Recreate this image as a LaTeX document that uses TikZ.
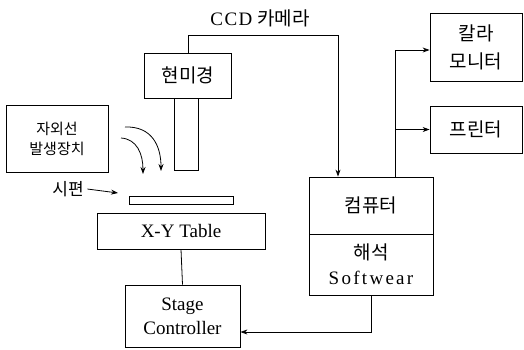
\documentclass[tikz,border=0pt]{standalone}
\usepackage{fontspec}
\setmainfont{Liberation Serif}
\newfontfamily\kr{Noto Sans CJK KR}
\usetikzlibrary{arrows.meta}

\begin{document}
\begin{tikzpicture}[x=1pt, y=-1pt, line width=0.8pt,
  box/.style={draw, inner sep=0pt, align=center},
  tip/.style={-{Stealth[length=7pt, width=5pt]}},
  big/.style={font=\fontsize{19}{28}\selectfont},
  small/.style={font=\fontsize{15}{20}\selectfont}]
\useasboundingbox (0, 0) rectangle (524, 349);
% microscope and tube
\node [box, big, minimum width=87, minimum height=45] (mscope) at (188, 75.5) {\kr 현미경};
\node [box, minimum width=24, minimum height=72] (tube) at (186, 134) {};
% light source, sample, stage
\node [box, small, minimum width=102, minimum height=67] (uv) at (57, 138.5) {{\kr 자외선}\\{\kr 발생장치}};
\node [box, minimum width=104, minimum height=8] (spec) at (181, 200) {};
\node [font=\fontsize{17}{20}\selectfont] (spc) at (68, 189) {\kr 시편};
\node [box, big, minimum width=168, minimum height=36] (xy) at (181, 231) {X-Y Table};
\node [box, big, minimum width=115, minimum height=62] (ctrl) at (182.5, 316) {Stage\\[-4pt]Controller};
% computer
\node [box, big, minimum width=124, minimum height=57] (pc) at (371, 205.5) {\kr 컴퓨터};
\node [box, big, minimum width=124, minimum height=61] (soft) at (371, 264.5) {{\kr 해석}\\[-3pt]{\addfontfeature{LetterSpace=12}Softwear}};
% outputs
\node [box, big, minimum width=92, minimum height=68] (mon) at (476, 47) {{\kr 칼라}\\{\kr 모니터}};
\node [box, big, minimum width=92, minimum height=47] (prn) at (476, 129.5) {\kr 프린터};
\node [big] (ccd) at (260, 18) {{\addfontfeature{LetterSpace=8}CCD} {\kr 카메라}};

\coordinate (cam) at (338, 35);
\coordinate (fork) at (395, 50);
\coordinate (back) at (371, 332);
\coordinate (spctip) at (118, 193);
\coordinate (ray1) at (125, 127);
\coordinate (ray1end) at (161, 171);
\coordinate (ray2) at (121, 138);
\coordinate (ray2end) at (143, 174);

\draw [tip] (mscope.north) |- (cam) -- (cam |- pc.north);
\draw (fork |- pc.north) -- (fork);
\draw [tip] (fork) -- (fork -| mon.west);
\draw [tip] (fork |- prn.west) -- (prn.west);
\draw (xy.south) -- (ctrl.north);
\draw [tip] (soft.south) |- (ctrl.east |- back);
\draw [tip] (spc.east) -- (spctip);
% UV rays
\draw [tip] (ray1) .. controls (152, 126) and (161, 146) .. (ray1end);
\draw [tip] (ray2) .. controls (137, 139) and (143, 154) .. (ray2end);
\end{tikzpicture}
\end{document}
